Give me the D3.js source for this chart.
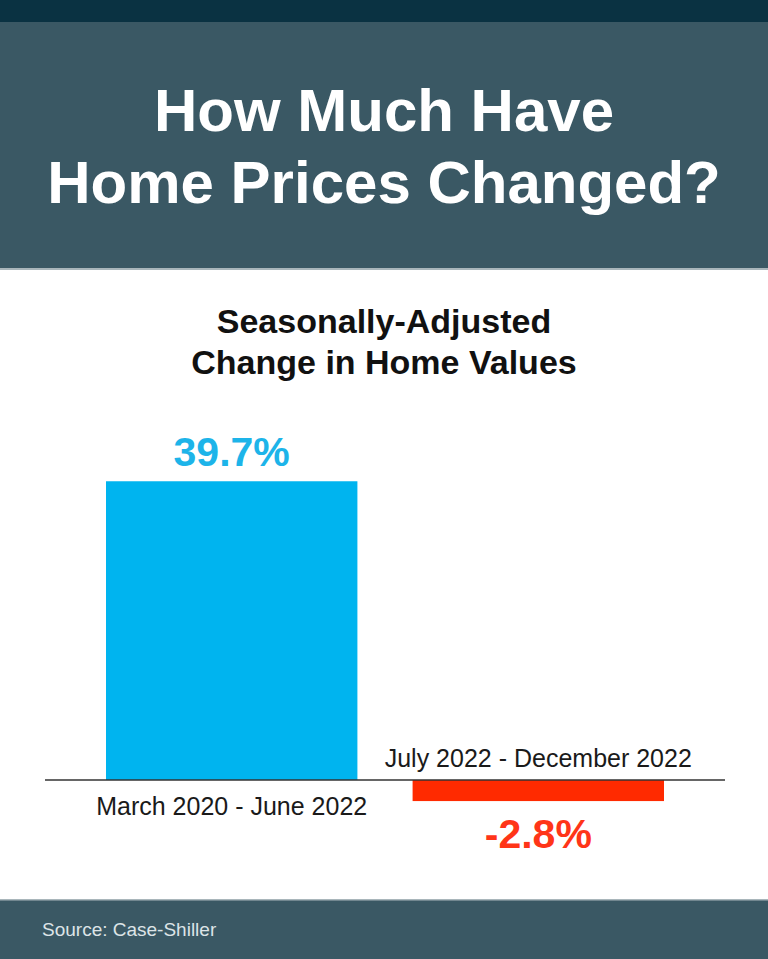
<!DOCTYPE html>
<html>
<head>
<meta charset="utf-8">
<script src="https://cdn.jsdelivr.net/npm/d3@7"></script>
<style>
  body { margin: 0; background: #fff; }
  svg { display: block; font-family: "Liberation Sans", Arial, sans-serif; }
</style>
</head>
<body>
<div id="chart"></div>
<script>
// chart data
var periods = ["March 2020 - June 2022", "July 2022 - December 2022"];
var changes = [39.7, -2.8];
var valueLabels = ["39.7%", "-2.8%"];
var barColors = ["#00b4ef", "#ff2a00"];
var labelColors = ["#1db4e9", "#ff3518"];

var titleLines = ["How Much Have", "Home Prices Changed?"];
var subtitleLines = ["Seasonally-Adjusted", "Change in Home Values"];
var source = "Source: Case-Shiller";

var svgWidth = 768;
var svgHeight = 959;

var svg = d3.select("#chart")
  .append("svg")
  .attr("width", svgWidth)
  .attr("height", svgHeight);

// header panels
svg.append("rect").attr("x", 0).attr("y", 0).attr("width", svgWidth).attr("height", 269).attr("fill", "#3a5864");
svg.append("rect").attr("x", 0).attr("y", 0).attr("width", svgWidth).attr("height", 22).attr("fill", "#0a3242");
svg.append("rect").attr("x", 0).attr("y", 268).attr("width", svgWidth).attr("height", 2).attr("fill", "#a9b6bb");

svg.selectAll(".title")
  .data(titleLines)
  .enter()
  .append("text")
  .attr("class", "title")
  .attr("x", svgWidth / 2)
  .attr("y", (d, i) => 131 + i * 72)
  .attr("text-anchor", "middle")
  .attr("font-size", 60)
  .attr("font-weight", "bold")
  .attr("fill", "#ffffff")
  .text(d => d);

svg.selectAll(".subtitle")
  .data(subtitleLines)
  .enter()
  .append("text")
  .attr("class", "subtitle")
  .attr("x", svgWidth / 2)
  .attr("y", (d, i) => 333 + i * 41)
  .attr("text-anchor", "middle")
  .attr("font-size", 34)
  .attr("font-weight", "bold")
  .attr("fill", "#111111")
  .text(d => d);

// scales
var xScale = d3.scaleBand()
  .domain(periods)
  .range([106, 664])
  .paddingInner(0.18)
  .paddingOuter(0);

var yScale = d3.scaleLinear()
  .domain([0, 40])
  .range([780, 479]);

var data = periods.map((p, i) => ({ period: p, value: changes[i], label: valueLabels[i], i: i }));

var chartGroup = svg.append("g");

chartGroup.selectAll("rect.bar")
  .data(data)
  .enter()
  .append("rect")
  .attr("class", "bar")
  .attr("x", d => xScale(d.period))
  .attr("width", xScale.bandwidth())
  .attr("y", d => yScale(Math.max(0, d.value)))
  .attr("height", d => Math.abs(yScale(d.value) - yScale(0)))
  .attr("fill", d => barColors[d.i]);

// zero line
chartGroup.append("line")
  .attr("x1", 45)
  .attr("x2", 725)
  .attr("y1", yScale(0))
  .attr("y2", yScale(0))
  .attr("stroke", "#333333")
  .attr("stroke-width", 1.5);

// value labels
chartGroup.selectAll("text.value")
  .data(data)
  .enter()
  .append("text")
  .attr("class", "value")
  .attr("x", d => xScale(d.period) + xScale.bandwidth() / 2)
  .attr("y", d => d.value >= 0 ? yScale(d.value) - 15 : yScale(d.value) + 47)
  .attr("text-anchor", "middle")
  .attr("font-size", 41)
  .attr("font-weight", "bold")
  .attr("fill", d => labelColors[d.i])
  .text(d => d.label);

// category labels, on the opposite side of the bar
chartGroup.selectAll("text.period")
  .data(data)
  .enter()
  .append("text")
  .attr("class", "period")
  .attr("x", d => xScale(d.period) + xScale.bandwidth() / 2)
  .attr("y", d => d.value >= 0 ? yScale(0) + 35 : yScale(0) - 13)
  .attr("text-anchor", "middle")
  .attr("font-size", 25)
  .attr("fill", "#1a1a1a")
  .text(d => d.period);

// footer
svg.append("rect").attr("x", 0).attr("y", 899).attr("width", svgWidth).attr("height", 60).attr("fill", "#3a5864");
svg.append("rect").attr("x", 0).attr("y", 899).attr("width", svgWidth).attr("height", 1.5).attr("fill", "#a9b6bb");

svg.append("text")
  .attr("x", 42)
  .attr("y", 936)
  .attr("font-size", 19)
  .attr("fill", "#dde4e7")
  .text(source);
</script>
</body>
</html>
